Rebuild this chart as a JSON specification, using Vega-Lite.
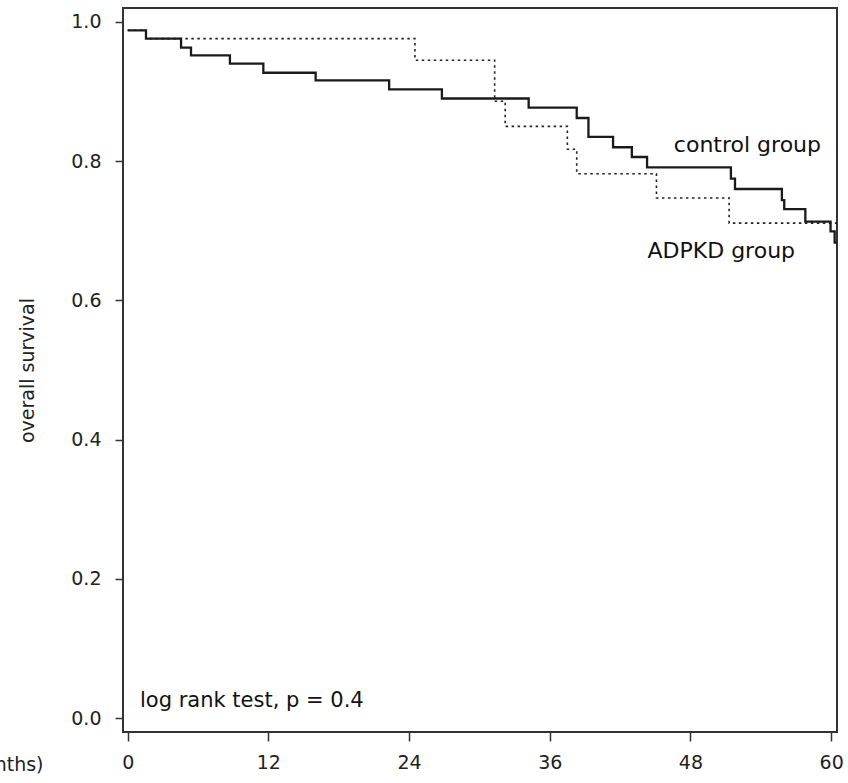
{
  "$schema": "https://vega.github.io/schema/vega-lite/v6.json",
  "width": 714,
  "height": 724,
  "autosize": {"type": "none"},
  "padding": {"left": 123, "top": 8, "right": 11, "bottom": 51},
  "background": "white",
  "config": {
    "font": "DejaVu Sans",
    "view": {"stroke": "#333", "strokeWidth": 2},
    "axis": {
      "domain": false,
      "grid": false,
      "tickColor": "#333",
      "tickWidth": 1.5,
      "labelFont": "DejaVu Sans",
      "labelFontSize": 19,
      "labelColor": "#222",
      "titleFont": "DejaVu Sans",
      "titleFontSize": 19,
      "titleFontWeight": "normal",
      "titleColor": "#222"
    }
  },
  "datasets": {
    "surv": [
      {"group": "control", "month": 0, "surv": 0.988},
      {"group": "control", "month": 1.56, "surv": 0.976},
      {"group": "control", "month": 4.55, "surv": 0.963},
      {"group": "control", "month": 5.4, "surv": 0.952},
      {"group": "control", "month": 8.72, "surv": 0.94},
      {"group": "control", "month": 11.57, "surv": 0.927},
      {"group": "control", "month": 16.03, "surv": 0.916},
      {"group": "control", "month": 22.3, "surv": 0.903},
      {"group": "control", "month": 26.8, "surv": 0.89},
      {"group": "control", "month": 34.2, "surv": 0.877},
      {"group": "control", "month": 38.3, "surv": 0.862},
      {"group": "control", "month": 39.3, "surv": 0.835},
      {"group": "control", "month": 41.4, "surv": 0.82},
      {"group": "control", "month": 43.0, "surv": 0.806},
      {"group": "control", "month": 44.3, "surv": 0.791},
      {"group": "control", "month": 51.45, "surv": 0.775},
      {"group": "control", "month": 51.8, "surv": 0.76},
      {"group": "control", "month": 55.8, "surv": 0.744},
      {"group": "control", "month": 56.0, "surv": 0.731},
      {"group": "control", "month": 57.8, "surv": 0.713},
      {"group": "control", "month": 59.95, "surv": 0.699},
      {"group": "control", "month": 60.3, "surv": 0.683},
      {"group": "control", "month": 60.5, "surv": 0.683},
      {"group": "ADPKD", "month": 0, "surv": 0.988},
      {"group": "ADPKD", "month": 1.56, "surv": 0.976},
      {"group": "ADPKD", "month": 24.5, "surv": 0.945},
      {"group": "ADPKD", "month": 31.3, "surv": 0.886},
      {"group": "ADPKD", "month": 32.2, "surv": 0.85},
      {"group": "ADPKD", "month": 37.5, "surv": 0.817},
      {"group": "ADPKD", "month": 38.3, "surv": 0.782},
      {"group": "ADPKD", "month": 45.1, "surv": 0.747},
      {"group": "ADPKD", "month": 51.3, "surv": 0.711},
      {"group": "ADPKD", "month": 60.5, "surv": 0.711}
    ],
    "labels": [
      {"label": "control group", "month": 52.86, "surv": 0.8136, "kind": "curve"},
      {"label": "ADPKD group", "month": 50.63, "surv": 0.6607, "kind": "curve"},
      {"label": "log rank test, p = 0.4", "month": 1.05, "surv": 0.0153, "kind": "note"}
    ]
  },
  "layer": [
    {
      "data": {"name": "surv"},
      "transform": [{"filter": "datum.group === 'ADPKD'"}],
      "mark": {"type": "line", "interpolate": "step-after", "strokeDash": [2.5, 3.5], "strokeWidth": 1.6, "color": "#222"},
      "encoding": {
        "x": {
          "field": "month", "type": "quantitative",
          "scale": {"domain": [-0.4, 60.5], "nice": false, "zero": false},
          "axis": {
            "values": [0, 12, 24, 36, 48, 60],
            "tickSize": 9,
            "labelPadding": 12,
            "title": "time (months)",
            "titleX": -80,
            "titleY": 38,
            "titleAlign": "right",
            "titleBaseline": "alphabetic",
            "titleAngle": 0
          }
        },
        "y": {
          "field": "surv", "type": "quantitative",
          "scale": {"domain": [-0.02, 1.02], "nice": false, "zero": false},
          "axis": {
            "values": [0, 0.2, 0.4, 0.6, 0.8, 1.0],
            "format": ".1f",
            "tickSize": 8,
            "labelPadding": 14,
            "title": "overall survival",
            "titlePadding": 33
          }
        }
      }
    },
    {
      "data": {"name": "surv"},
      "transform": [{"filter": "datum.group === 'control'"}],
      "mark": {"type": "line", "interpolate": "step-after", "strokeWidth": 2.3, "color": "#1a1a1a"},
      "encoding": {
        "x": {"field": "month", "type": "quantitative"},
        "y": {"field": "surv", "type": "quantitative"}
      }
    },
    {
      "data": {"name": "labels"},
      "transform": [{"filter": "datum.kind === 'curve'"}],
      "mark": {"type": "text", "align": "center", "baseline": "alphabetic", "fontSize": 22, "color": "#111"},
      "encoding": {
        "x": {"field": "month", "type": "quantitative"},
        "y": {"field": "surv", "type": "quantitative"},
        "text": {"field": "label"}
      }
    },
    {
      "data": {"name": "labels"},
      "transform": [{"filter": "datum.kind === 'note'"}],
      "mark": {"type": "text", "align": "left", "baseline": "alphabetic", "fontSize": 21, "color": "#111"},
      "encoding": {
        "x": {"field": "month", "type": "quantitative"},
        "y": {"field": "surv", "type": "quantitative"},
        "text": {"field": "label"}
      }
    }
  ]
}
